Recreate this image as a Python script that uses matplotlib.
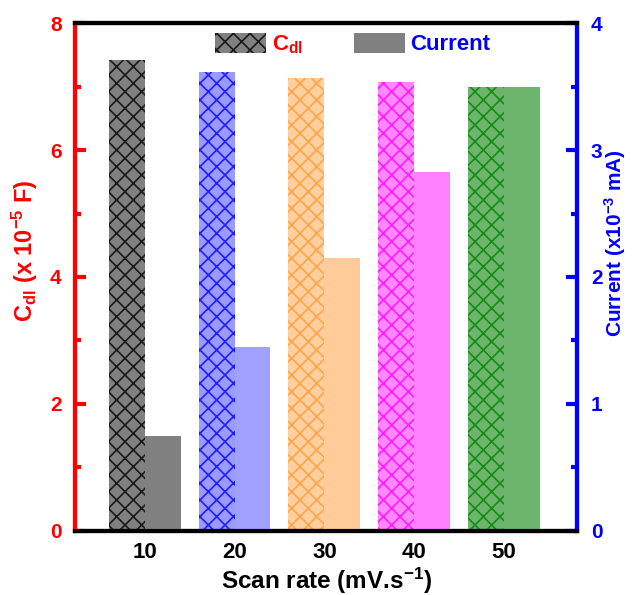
import matplotlib
matplotlib.use('Agg')
import matplotlib.pyplot as plt
import numpy as np

plt.rcParams['font.family'] = ['Liberation Sans', 'DejaVu Sans']
plt.rcParams['font.weight'] = 'bold'
plt.rcParams['axes.labelweight'] = 'bold'
plt.rcParams['mathtext.fontset'] = 'custom'
plt.rcParams['mathtext.rm'] = 'Liberation Sans:bold'
plt.rcParams['mathtext.it'] = 'Liberation Sans:bold'
plt.rcParams['mathtext.bf'] = 'Liberation Sans:bold'
plt.rcParams['mathtext.default'] = 'rm'
plt.rcParams['hatch.linewidth'] = 1.2

scan_rates = ['10', '20', '30', '40', '50']
cdl_values = [7.42, 7.23, 7.14, 7.07, 7.00]
current_values = [0.75, 1.45, 2.15, 2.83, 3.50]

hatch_colors = ['#000000cc', '#0000ffcc', '#ff9933cc', '#ff00ffcc', '#008000cc']
cdl_faces = ['#808080', '#9a9aff', '#ffcf9f', '#ff88ff', '#6db56d']
current_faces = ['#808080', '#a0a0ff', '#ffcc99', '#ff80ff', '#6db56d']

x = np.arange(len(scan_rates))
width = 0.4

fig, ax = plt.subplots(figsize=(6.34, 5.95), dpi=100)
fig.subplots_adjust(left=0.119, right=0.910, top=0.961, bottom=0.108)
ax2 = ax.twinx()

cdl_bars = ax.bar(x - width / 2, cdl_values, width, color=cdl_faces,
                  edgecolor=hatch_colors, linewidth=0, hatch='xx')
cur_bars = ax2.bar(x + width / 2, current_values, width, color=current_faces,
                   linewidth=0)

ax.set_xlim(-0.77, 4.81)
ax.set_ylim(0, 8)
ax2.set_ylim(0, 4)
ax.set_xticks(x)
ax.set_xticklabels(scan_rates)
ax.set_yticks([0, 2, 4, 6, 8])
ax.set_yticks([1, 3, 5, 7], minor=True)
ax2.set_yticks([0, 1, 2, 3, 4])
ax2.set_yticks([0.5, 1.5, 2.5, 3.5], minor=True)

ax.tick_params(axis='x', length=0, labelsize=16, pad=8)
ax.tick_params(axis='y', which='major', direction='in', length=8, width=3,
               colors='red', labelsize=15, pad=10)
ax.tick_params(axis='y', which='minor', direction='in', length=4, width=3,
               colors='red')
ax2.tick_params(axis='y', which='major', direction='in', length=8, width=3,
                colors='blue', labelsize=15, pad=10)
ax2.tick_params(axis='y', which='minor', direction='in', length=4, width=3,
                colors='blue')

for a in (ax, ax2):
    for side in ('top', 'bottom', 'left', 'right'):
        a.spines[side].set_linewidth(3)
    a.spines['top'].set_color('black')
    a.spines['bottom'].set_color('black')
    a.spines['left'].set_color('red')
    a.spines['right'].set_color('blue')

ax.set_xlabel('Scan rate (mV.s$^{-1}$)', fontsize=17.5, labelpad=2)
ax.set_ylabel('C$_{dl}$ (x 10$^{-5}$ F)', fontsize=17, color='red')
ax2.set_ylabel('Current (x10$^{-3}$ mA)', fontsize=15, color='blue')
ax.yaxis.set_label_coords(-0.07, 0.552)
ax2.yaxis.set_label_coords(1.05, 0.566)

leg = ax.legend([cdl_bars[0], cur_bars[0]], ['C$_{dl}$', 'Current'],
                loc='center', bbox_to_anchor=(0.553, 0.958), ncol=2,
                frameon=False, fontsize=16, handlelength=2.3, handleheight=1.0,
                columnspacing=2.3, handletextpad=0.25)
for txt, col in zip(leg.get_texts(), ['red', 'blue']):
    txt.set_color(col)

fig.savefig('out.png', dpi=100)
